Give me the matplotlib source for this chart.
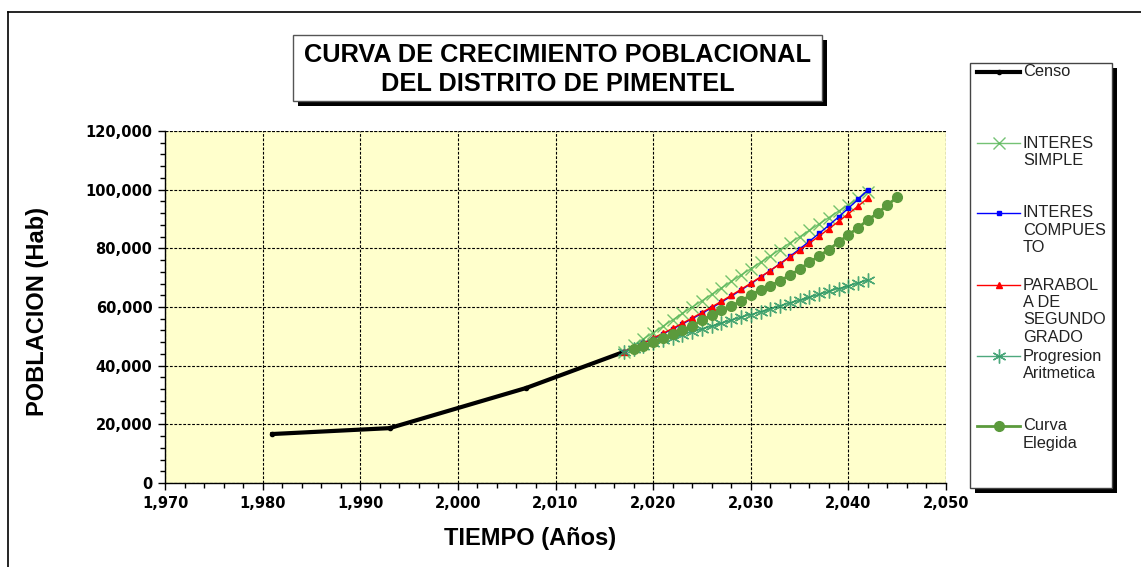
import matplotlib
matplotlib.use("Agg")
import matplotlib.pyplot as plt
from matplotlib.patches import Rectangle
from matplotlib.lines import Line2D
from matplotlib.ticker import MultipleLocator, FuncFormatter

# --- data -------------------------------------------------------------
censo_years = [1981, 1993, 2007, 2017]
censo_pop = [16700, 18700, 32400, 44700]

proj_years = list(range(2017, 2043))
interes_simple = [44700, 46900, 49100, 51200, 53400, 55600, 57800, 60000,
                  62100, 64300, 66500, 68700, 70900, 73000, 75200, 77400,
                  79600, 81800, 83900, 86100, 88300, 90500, 92700, 94800,
                  97000, 99200]
interes_compuesto = [44700, 46160, 47670, 49230, 50840, 52500, 54220, 55990,
                     57820, 59710, 61660, 63680, 65760, 67910, 70130, 72420,
                     74790, 77240, 79760, 82370, 85060, 87840, 90720, 93680,
                     96750, 99910]
parabola = [44700, 46200, 47760, 49360, 51010, 52710, 54460, 56260,
            58110, 60010, 61960, 63960, 66010, 68100, 70250, 72440,
            74690, 76980, 79330, 81720, 84160, 86650, 89190, 91770,
            94400, 97090]
progresion = [44700, 45700, 46700, 47600, 48600, 49600, 50600, 51600,
              52500, 53500, 54500, 55500, 56500, 57400, 58400, 59400,
              60400, 61400, 62300, 63300, 64300, 65300, 66300, 67200,
              68200, 69200]

elegida_years = list(range(2018, 2046))
elegida = [45700, 46700, 48100, 49400, 50800, 52200, 53500, 55600,
           57300, 59000, 60400, 62000, 64100, 65800, 67200, 69000,
           70800, 72900, 75200, 77400, 79600, 82100, 84600, 87000,
           89700, 92000, 94800, 97400]

title_lines = ["CURVA DE CRECIMIENTO POBLACIONAL", "DEL DISTRITO DE PIMENTEL"]
xlabel = "TIEMPO (Años)"
ylabel = "POBLACION (Hab)"
legend_labels = [
    ["Censo"],
    ["INTERES", "SIMPLE"],
    ["INTERES", "COMPUES", "TO"],
    ["PARABOL", "A DE", "SEGUNDO", "GRADO"],
    ["Progresion", "Aritmetica"],
    ["Curva", "Elegida"],
]

# --- styles -----------------------------------------------------------
W, H = 1141, 567
ASTER = (6, 2, 0)
styles = [
    dict(color="black", lw=3.0, marker="o", ms=3.0),
    dict(color="#5cb85c", lw=1.0, marker="x", ms=8, mew=1.0, alpha=0.85),
    dict(color="#0000ff", lw=1.0, marker="s", ms=2.2),
    dict(color="#ff0000", lw=1.0, marker="^", ms=4.5),
    dict(color="#2e9966", lw=1.0, marker=ASTER, ms=10, mew=1.0, alpha=0.85),
    dict(color="#5b9a3c", lw=2.0, marker="o", ms=7),
]


def fx(px):
    return px / W


def fy(py):
    return 1 - py / H


fig = plt.figure(figsize=(W / 100, H / 100), dpi=100)
fig.patch.set_facecolor("white")

# outer frame (left and top edges visible)
fig.add_artist(Line2D([fx(8), fx(8)], [fy(12), fy(570)], color="black", lw=1.2))
fig.add_artist(Line2D([fx(8), fx(1145)], [fy(12), fy(12)], color="black", lw=1.2))

# --- plot area --------------------------------------------------------
ax = fig.add_axes([fx(165), fy(483), fx(946) - fx(165), fy(131) - fy(483)])
ax.set_facecolor("#ffffcc")

series = [
    (censo_years, censo_pop),
    (proj_years, interes_simple),
    (proj_years, interes_compuesto),
    (proj_years, parabola),
    (proj_years, progresion),
    (elegida_years, elegida),
]
for i, ((xs, ys), st) in enumerate(zip(series, styles)):
    ax.plot(xs, ys, zorder=3 + i, clip_on=False, **st)

ax.set_xlim(1970, 2050)
ax.set_ylim(0, 120000)
ax.xaxis.set_major_locator(MultipleLocator(10))
ax.xaxis.set_minor_locator(MultipleLocator(2))
ax.yaxis.set_major_locator(MultipleLocator(20000))
ax.yaxis.set_minor_locator(MultipleLocator(4000))
comma = FuncFormatter(lambda v, p: f"{int(round(v)):,}")
ax.xaxis.set_major_formatter(comma)
ax.yaxis.set_major_formatter(comma)

ax.grid(True, which="major", color="black", linestyle=(0, (2.5, 1.5)), lw=0.8)
ax.set_axisbelow(True)
for side in ("top", "right"):
    ax.spines[side].set_visible(False)
for side in ("left", "bottom"):
    ax.spines[side].set_linewidth(1.0)
    ax.spines[side].set_zorder(10)

ax.tick_params(which="major", direction="out", length=5, width=1, pad=4)
ax.tick_params(which="minor", direction="out", length=3.5, width=1)
for lab in ax.get_xticklabels() + ax.get_yticklabels():
    lab.set_fontfamily("DejaVu Sans")
    lab.set_fontweight("bold")
    lab.set_fontsize(10.5)

# gridlines at the top and right limits
ax.axhline(120000, color="black", linestyle=(0, (2.5, 1.5)), lw=0.8, zorder=1)
ax.axvline(2050, color="black", linestyle=(0, (2.5, 1.5)), lw=0.8, zorder=1)

fig.text(fx(530), fy(538), xlabel, ha="center", va="center",
         fontsize=17, fontweight="bold", family="Liberation Sans")
fig.text(fx(38), fy(311), ylabel, ha="center", va="center", rotation=90,
         fontsize=17, fontweight="bold", family="Liberation Sans")

# --- title box --------------------------------------------------------
tx0, tx1, ty0, ty1 = 293, 822, 35, 101
fig.add_artist(Rectangle((fx(tx0 + 5), fy(ty1 + 5)), fx(tx1 - tx0), fy(ty0) - fy(ty1),
                         facecolor="black", edgecolor="none"))
fig.add_artist(Rectangle((fx(tx0), fy(ty1)), fx(tx1 - tx0), fy(ty0) - fy(ty1),
                         facecolor="white", edgecolor="#555555", lw=1.0))
for k, line in enumerate(title_lines):
    fig.text(fx((tx0 + tx1) / 2), fy(55 + 29 * k), line, ha="center", va="center",
             fontsize=18.3, fontweight="bold", family="Liberation Sans")

# --- legend box -------------------------------------------------------
lx0, lx1, ly0, ly1 = 970, 1112, 63, 488
fig.add_artist(Rectangle((fx(lx0 + 5), fy(ly1 + 5)), fx(lx1 - lx0), fy(ly0) - fy(ly1),
                         facecolor="black", edgecolor="none"))
fig.add_artist(Rectangle((fx(lx0), fy(ly1)), fx(lx1 - lx0), fy(ly0) - fy(ly1),
                         facecolor="white", edgecolor="#444444", lw=1.0))
entry_y = [72, 143, 213, 285, 356, 426]
for st, labels, ey in zip(styles, legend_labels, entry_y):
    fig.add_artist(Line2D([fx(977), fx(998.5), fx(1020)], [fy(ey)] * 3,
                          markevery=[1], **st))
    for j, t in enumerate(labels):
        fig.text(fx(1023), fy(ey + 17.5 * j), t, ha="left", va="center",
                 fontsize=11.8, color="#222222", family="Liberation Sans")

fig.savefig("out.png", dpi=100)
